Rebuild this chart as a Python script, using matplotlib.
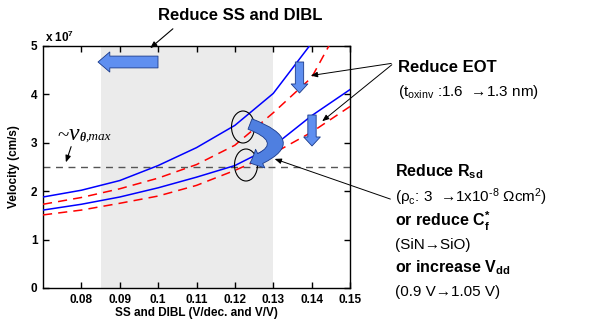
import matplotlib
matplotlib.use("Agg")
import matplotlib.pyplot as plt
from matplotlib.patches import FancyArrowPatch, Ellipse

plt.rcParams['font.family'] = ['Liberation Sans', 'DejaVu Sans']
plt.rcParams['mathtext.fontset'] = 'custom'
plt.rcParams['mathtext.rm'] = 'Liberation Sans'
plt.rcParams['mathtext.it'] = 'Liberation Sans:italic'
plt.rcParams['mathtext.bf'] = 'Liberation Sans:bold'

# SS + DIBL (V/dec. and V/V)
x = [0.07, 0.08, 0.09, 0.10, 0.11, 0.12, 0.13, 0.14, 0.15]
# velocity in units of 1e7 cm/s
blue_hi = [1.88, 2.02, 2.22, 2.53, 2.90, 3.36, 4.02, 5.06, 6.30]
blue_lo = [1.61, 1.73, 1.88, 2.07, 2.29, 2.53, 2.93, 3.56, 4.10]
red_hi = [1.73, 1.87, 2.05, 2.27, 2.55, 2.95, 3.62, 4.35, 5.80]
red_lo = [1.51, 1.61, 1.75, 1.90, 2.12, 2.43, 2.78, 3.22, 3.75]
v_sat = 2.5
window = (0.085, 0.13)

xticks = [0.08, 0.09, 0.10, 0.11, 0.12, 0.13, 0.14, 0.15]
xticklabels = ['0.08', '0.09', '0.1', '0.11', '0.12', '0.13', '0.14', '0.15']
yticks = [0, 1, 2, 3, 4, 5]

W, H = 597, 324
fig = plt.figure(figsize=(W / 100, H / 100), dpi=100)
ax = fig.add_axes([43 / W, 1 - 288 / H, (350 - 43) / W, (288 - 46) / H])


def fp(px, py):
    return (px / W, 1 - py / H)


def dp(px, py):
    return (0.07 + (px - 43) / 3837.5, (288 - py) / 48.4)


ax.axvspan(*window, color='#ebebeb', lw=0, zorder=0)
ax.axhline(v_sat, color='#555555', lw=1.0, ls=(0, (5, 4)), zorder=1)
ax.plot(x, blue_hi, color='#0000ff', lw=1.1, zorder=3)
ax.plot(x, blue_lo, color='#0000ff', lw=1.1, zorder=3)
ax.plot(x, red_hi, color='#ff0000', lw=1.1, ls=(0, (6, 4)), zorder=3)
ax.plot(x, red_lo, color='#ff0000', lw=1.1, ls=(0, (6, 4)), zorder=3)

ax.set_xlim(0.07, 0.15)
ax.set_ylim(0, 5)
ax.set_xticks(xticks)
ax.set_xticklabels(xticklabels)
ax.set_yticks(yticks)
ax.tick_params(direction='in', top=True, right=True, length=4, width=1,
               labelsize=8.5, pad=4)
for lab in ax.get_xticklabels() + ax.get_yticklabels():
    lab.set_fontweight('bold')
for s in ax.spines.values():
    s.set_linewidth(1.0)
ax.set_xlabel('SS and DIBL (V/dec. and V/V)', fontsize=8.5, fontweight='bold', labelpad=1)
ax.set_ylabel('Velocity (cm/s)', fontsize=8.5, fontweight='bold', labelpad=8)

fig.text(*fp(45, 42), r'x 10$^{\mathbf{7}}$', fontsize=8.5, fontweight='bold', va='baseline')

arrow_fc = '#5f8ff0'
arrow_ec = '#1a3a8a'

# thick "reduce" arrows
big = FancyArrowPatch(dp(158, 62), dp(98, 62),
                      arrowstyle='simple,head_length=8.5,head_width=14.5,tail_width=8.5',
                      mutation_scale=1, fc=arrow_fc, ec=arrow_ec, lw=0.6, zorder=5,
                      shrinkA=0, shrinkB=0)
ax.add_patch(big)
for (cx, top, tip) in [(299.5, 62, 93), (312, 115, 146)]:
    a = FancyArrowPatch(dp(cx, top), dp(cx, tip),
                        arrowstyle='simple,head_length=6.5,head_width=12,tail_width=6',
                        mutation_scale=1, fc=arrow_fc, ec=arrow_ec, lw=0.6, zorder=5,
                        shrinkA=0, shrinkB=0)
    ax.add_patch(a)

# circles around the crossing points
for (cx, cy) in [(243, 127), (246, 165)]:
    ex, ey = dp(cx, cy)
    ax.add_patch(Ellipse((ex, ey), 23 / 3837.5, 32 / 48.4, fill=False,
                         ec='black', lw=0.8, zorder=6))

curved = FancyArrowPatch(dp(250, 124), dp(250, 163),
                         connectionstyle='arc3,rad=-1.3',
                         arrowstyle='simple,head_length=8,head_width=15,tail_width=8',
                         mutation_scale=1, fc='#4f7fe0', ec=arrow_ec, lw=0.6, zorder=7,
                         shrinkA=0, shrinkB=0)
ax.add_patch(curved)

# titles and labels
fig.text(*fp(240, 16), 'Reduce SS and DIBL', fontsize=12, fontweight='bold',
         ha='center', va='center')
fig.add_artist(FancyArrowPatch(fp(175, 27), fp(148, 50), transform=fig.transFigure,
                               arrowstyle='-|>,head_length=4,head_width=1.6',
                               mutation_scale=1, color='black', lw=0.8))

# saturation velocity label: ~v with subscript theta,max
fig.text(*fp(57, 141), '~', fontsize=15, family='Liberation Serif', va='baseline')
fig.text(*fp(69, 140), 'v', fontsize=17, family='Liberation Serif', style='italic',
         va='baseline')
fig.text(*fp(80, 141), 'θ', fontsize=8.5, family='Liberation Serif', style='italic',
         fontweight='bold', va='baseline')
fig.text(*fp(86, 140), ',max', fontsize=9.5, family='Liberation Serif', style='italic',
         va='baseline')
fig.add_artist(FancyArrowPatch(fp(72, 144), fp(65, 165), transform=fig.transFigure,
                               arrowstyle='-|>,head_length=4,head_width=1.6',
                               mutation_scale=1, color='black', lw=0.8))

fig.text(*fp(398, 68), 'Reduce EOT', fontsize=12, fontweight='bold', va='center')
fig.text(*fp(398, 92), r'(t$_{\mathrm{oxinv}}$ :1.6  →1.3 nm)', fontsize=11, va='center')
for (tx, ty) in [(308, 76), (320, 123)]:
    fig.add_artist(FancyArrowPatch(fp(394, 63), fp(tx, ty), transform=fig.transFigure,
                                   arrowstyle='-|>,head_length=4,head_width=1.6',
                                   mutation_scale=1, color='black', lw=0.7))

fig.add_artist(FancyArrowPatch(fp(393, 200), fp(272, 158), transform=fig.transFigure,
                               arrowstyle='-|>,head_length=4,head_width=1.6',
                               mutation_scale=1, color='black', lw=0.7))

fig.text(*fp(395, 172), r'Reduce R$_{\mathbf{sd}}$', fontsize=11.5, fontweight='bold', va='center')
fig.text(*fp(395, 197), r'(ρ$_{\mathrm{c}}$: 3  →1x10$^{\text{-8}}$ Ωcm$^{2}$)', fontsize=11, va='center')
fig.text(*fp(395, 221), r'or reduce C$_{\mathbf{f}}^{\mathbf{*}}$', fontsize=11.5, fontweight='bold', va='center')
fig.text(*fp(395, 245), '(SiN→SiO)', fontsize=11, va='center')
fig.text(*fp(395, 268), r'or increase V$_{\mathbf{dd}}$', fontsize=11.5, fontweight='bold', va='center')
fig.text(*fp(395, 292), '(0.9 V→1.05 V)', fontsize=11, va='center')

fig.savefig('out.png', dpi=100)
